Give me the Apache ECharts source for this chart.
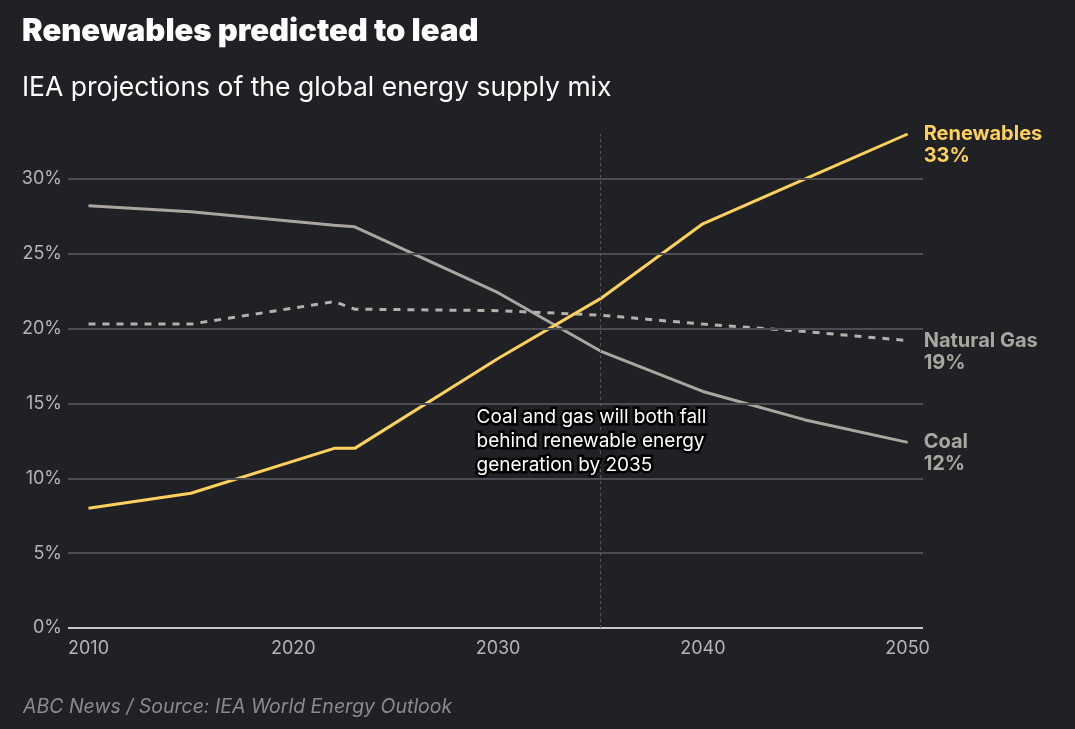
<!DOCTYPE html>
<html>
<head>
<meta charset="utf-8">
<script src="https://cdn.jsdelivr.net/npm/echarts@6/dist/echarts.min.js"></script>
<style>
  html, body { margin: 0; padding: 0; background: #202125; }
  #chart { width: 1075px; height: 729px; }
</style>
</head>
<body>
<div id="chart"></div>
<script>
// IEA projections - share of global energy supply (%)
const years = [2010, 2015, 2022, 2023, 2030, 2035, 2040, 2045, 2050];
const renewables = [8.0, 9.0, 12.0, 12.0, 18.0, 22.0, 27.0, 30.0, 33.0];
const naturalGas = [20.3, 20.3, 21.8, 21.3, 21.2, 20.9, 20.3, 19.8, 19.2];
const coal = [28.2, 27.8, 26.9, 26.8, 22.4, 18.5, 15.8, 13.9, 12.4];
const yTicks = [0, 5, 10, 15, 20, 25, 30];
const xTicks = [2010, 2020, 2030, 2040, 2050];
const annotationYear = 2035;

const font = 'Inter, Roboto, "Noto Sans", sans-serif';

function pairs(vals) {
    return years.map((y, i) => [y, vals[i]]);
}

function endLabel(color) {
    return {
        show: true,
        distance: 16,
        offset: [0, 11],
        color: color,
        fontFamily: font,
        fontSize: 20,
        fontWeight: 'bold',
        lineHeight: 22,
        align: 'left',
        formatter: p => p.seriesName + '\n' + Math.round(p.value[1]) + '%'
    };
}

const chart = echarts.init(document.getElementById('chart'));
chart.setOption({
    backgroundColor: '#202125',
    animation: false,
    title: [
        {
            text: 'Renewables predicted to lead',
            left: 17, top: 11,
            textStyle: { color: '#ffffff', fontFamily: font, fontSize: 31, fontWeight: 900 }
        },
        {
            text: 'IEA projections of the global energy supply mix',
            left: 17, top: 70,
            textStyle: { color: '#ffffff', fontFamily: font, fontSize: 26.5, fontWeight: 'normal' }
        },
        {
            text: 'ABC News / Source: IEA World Energy Outlook',
            left: 18, top: 692,
            textStyle: { color: '#8a8b8f', fontFamily: font, fontSize: 19.5, fontStyle: 'italic', fontWeight: 'normal' }
        }
    ],
    grid: { left: 68, right: 152, top: 134, bottom: 101 },
    xAxis: {
        type: 'value',
        min: 2009,
        max: 2050.75,
        splitLine: { show: false },
        axisLine: { show: false },
        axisTick: { show: false },
        axisLabel: {
            customValues: xTicks,
            color: '#b4b4b8',
            fontFamily: font,
            fontSize: 18,
            margin: 12,
            formatter: v => String(v)
        }
    },
    yAxis: {
        type: 'value',
        min: 0,
        max: 33,
        splitLine: { show: false },
        axisLine: { show: false },
        axisTick: { show: false },
        axisLabel: {
            customValues: yTicks,
            color: '#b4b4b8',
            fontFamily: font,
            fontSize: 18,
            margin: 6,
            formatter: v => v + '%'
        }
    },
    graphic: [{
        type: 'text',
        left: 474,
        top: 405,
        style: {
            text: 'Coal and gas will both fall\nbehind renewable energy\ngeneration by 2035',
            fill: '#ffffff',
            stroke: '#000000',
            lineWidth: 5,
            font: '19px ' + font,
            lineHeight: 24
        },
        z: 100
    }],
    series: [
        {
            name: 'Gridlines',
            type: 'line',
            data: [],
            silent: true,
            markLine: {
                symbol: 'none',
                silent: true,
                label: { show: false },
                data: yTicks.filter(v => v > 0).map(v => ({ yAxis: v, lineStyle: { color: '#4c4d52', width: 2, type: 'solid' } }))
                    .concat([{ yAxis: 0, lineStyle: { color: '#c9c9cc', width: 2, type: 'solid' } }])
                    .concat([{ xAxis: annotationYear, lineStyle: { color: '#55565b', width: 1, type: [3, 3] } }])
            },
            z: 1
        },
        {
            name: 'Coal',
            type: 'line',
            data: pairs(coal),
            symbol: 'none',
            lineStyle: { color: '#a8a69f', width: 3 },
            itemStyle: { color: '#a8a69f' },
            endLabel: endLabel('#a8a69f'),
            z: 3
        },
        {
            name: 'Natural Gas',
            type: 'line',
            data: pairs(naturalGas),
            symbol: 'none',
            lineStyle: { color: '#b4b1aa', width: 3, type: [7, 7] },
            itemStyle: { color: '#b4b1aa' },
            endLabel: endLabel('#a8a69f'),
            z: 3
        },
        {
            name: 'Renewables',
            type: 'line',
            data: pairs(renewables),
            symbol: 'none',
            lineStyle: { color: '#ffd15c', width: 3 },
            itemStyle: { color: '#ffd15c' },
            endLabel: endLabel('#ffd15c'),
            z: 4
        }
    ]
});
</script>
</body>
</html>
